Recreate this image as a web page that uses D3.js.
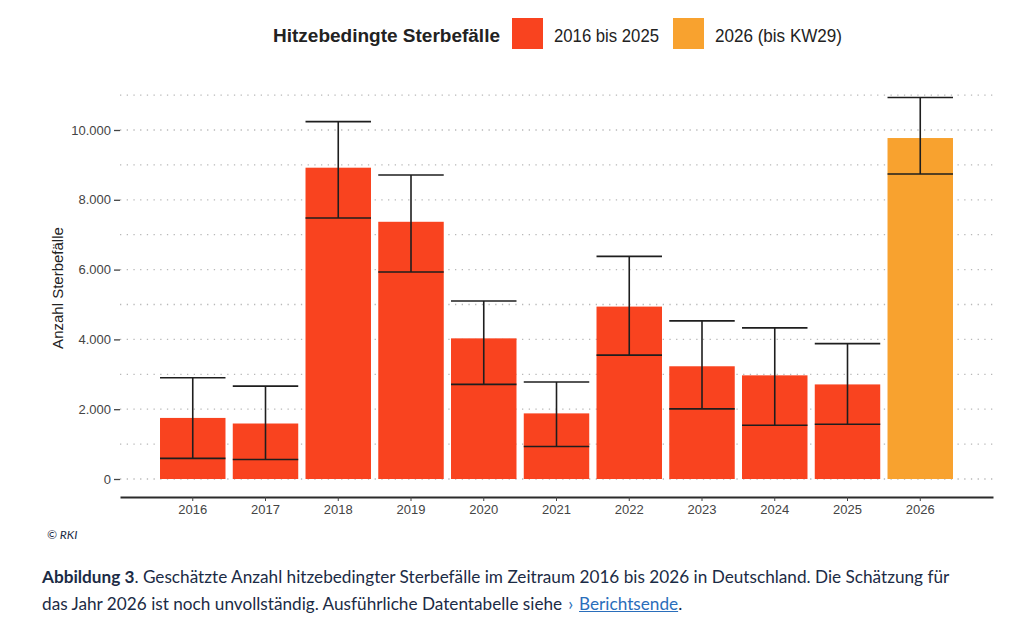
<!DOCTYPE html>
<html lang="de">
<head>
  <meta charset="UTF-8" />
  <title>Hitzebedingte Sterbefälle</title>
  <script src="https://d3js.org/d3.v7.min.js"></script>
  <style>
    body {
      margin: 0;
      background: #fff;
      overflow: hidden;
    }
    .caption {
      position: absolute;
      left: 42px;
      top: 563px;
      width: 980px;
      font-family: Lato, "Open Sans", sans-serif;
      font-size: 17.2px;
      line-height: 27px;
      color: #1b2b45;
      white-space: nowrap;
    }
    .caption a {
      color: #2a6ebb;
      text-decoration: underline;
    }
    .caption .chev {
      color: #2a6ebb;
      padding: 0 6px 0 6px;
    }
    .copy {
      position: absolute;
      left: 47px;
      top: 527px;
      font-family: Lato, sans-serif;
      font-style: italic;
      font-size: 12px;
      color: #1b2b45;
    }
  </style>
</head>
<body>
<svg width="1024" height="520" style="position:absolute;left:0;top:0"></svg>
<div class="copy">© RKI</div>
<div class="caption"><b>Abbildung 3</b>. Geschätzte Anzahl hitzebedingter Sterbefälle im Zeitraum 2016 bis 2026 in Deutschland. Die Schätzung für<br>das Jahr 2026 ist noch unvollständig. Ausführliche Datentabelle siehe<span class="chev">›</span><a href="#">Berichtsende</a>.</div>
<script>
// Werte
const years = ["2016","2017","2018","2019","2020","2021","2022","2023","2024","2025","2026"];
const deaths = [1750, 1590, 8920, 7370, 4030, 1880, 4940, 3230, 2970, 2710, 9770];
const lower  = [ 590,  560, 7480, 5930, 2710,  930, 3550, 2010, 1540, 1570, 8740];
const upper  = [2900, 2660, 10240, 8710, 5100, 2780, 6380, 4530, 4330, 3880, 10930];
const groups = ["2016 bis 2025","2016 bis 2025","2016 bis 2025","2016 bis 2025","2016 bis 2025",
                "2016 bis 2025","2016 bis 2025","2016 bis 2025","2016 bis 2025","2016 bis 2025","2026 (bis KW29)"];
const legendLabels = ["2016 bis 2025", "2026 (bis KW29)"];
const yTicks = [0, 2000, 4000, 6000, 8000, 10000];

const rows = years.map((y, i) => ({year: y, value: deaths[i], lo: lower[i], hi: upper[i], group: groups[i]}));

const svg = d3.select("svg");
const font = "'Liberation Sans', Arial, sans-serif";
const plotLeft = 120, plotRight = 993, zeroY = 479;

const color = d3.scaleOrdinal().domain(legendLabels).range(["#f9431f", "#f8a22f"]);

const x = d3.scaleBand().domain(years)
  .range([plotLeft, plotRight]).paddingInner(0.1).paddingOuter(0.55);
const y = d3.scaleLinear().domain([0, 10000]).range([zeroY, 130]);

// dotted grid, every 1000
const g = svg.append("g");
g.selectAll("line.grid")
  .data(d3.range(0, 11001, 1000))
  .join("line")
  .attr("x1", plotLeft).attr("x2", plotRight)
  .attr("y1", d => y(d)).attr("y2", d => y(d))
  .attr("stroke", "#b8b8b8")
  .attr("stroke-width", 1.3)
  .attr("stroke-dasharray", "1.3,5.4");

// bars
g.selectAll("rect.bar")
  .data(rows)
  .join("rect")
  .attr("x", d => x(d.year))
  .attr("width", x.bandwidth())
  .attr("y", d => y(d.value))
  .attr("height", d => y(0) - y(d.value))
  .attr("fill", d => color(d.group));

// error bars
const eb = g.selectAll("g.err").data(rows).join("g").attr("stroke", "#1e1e1e").attr("stroke-width", 1.6);
eb.append("line")
  .attr("x1", d => x(d.year) + x.bandwidth() / 2).attr("x2", d => x(d.year) + x.bandwidth() / 2)
  .attr("y1", d => y(d.lo)).attr("y2", d => y(d.hi));
eb.append("line")
  .attr("x1", d => x(d.year)).attr("x2", d => x(d.year) + x.bandwidth())
  .attr("y1", d => y(d.hi)).attr("y2", d => y(d.hi));
eb.append("line")
  .attr("x1", d => x(d.year)).attr("x2", d => x(d.year) + x.bandwidth())
  .attr("y1", d => y(d.lo)).attr("y2", d => y(d.lo));

// y axis (no line, only ticks + labels)
const yAxis = svg.append("g")
  .attr("transform", `translate(${plotLeft},0)`)
  .call(d3.axisLeft(y).tickValues(yTicks).tickSize(6).tickPadding(3)
    .tickFormat(d => d3.format(",")(d).replace(/,/g, ".")));
yAxis.select(".domain").remove();
yAxis.selectAll("line").attr("stroke", "#444").attr("stroke-width", 1.3);
yAxis.selectAll("text").attr("font-family", font).attr("font-size", 13).attr("fill", "#444");

// x axis
const xAxis = svg.append("g")
  .attr("transform", "translate(0,497)")
  .call(d3.axisBottom(x).tickSize(4).tickSizeOuter(0).tickPadding(4));
xAxis.select(".domain").attr("stroke", "#2b2b2b").attr("stroke-width", 2.2);
xAxis.selectAll("line").attr("stroke", "#444");
xAxis.selectAll("text").attr("font-family", font).attr("font-size", 13).attr("fill", "#444");

// y title
svg.append("text")
  .attr("transform", "translate(63,288) rotate(-90)")
  .attr("text-anchor", "middle")
  .attr("font-family", font).attr("font-size", 15).attr("fill", "#222")
  .text("Anzahl Sterbefälle");

// legend
const leg = svg.append("g").attr("font-family", font).attr("fill", "#222");
leg.append("text").attr("x", 273).attr("y", 42).attr("font-size", 18.5).attr("font-weight", "bold")
  .attr("textLength", 227).attr("lengthAdjust", "spacingAndGlyphs")
  .text("Hitzebedingte Sterbefälle");
const legX = [512, 673];
const legW = [105, 127];
legendLabels.forEach((l, i) => {
  leg.append("rect").attr("x", legX[i]).attr("y", 18).attr("width", 31).attr("height", 31).attr("fill", color(l));
  leg.append("text").attr("x", legX[i] + 42).attr("y", 42).attr("font-size", 17.5)
    .attr("textLength", legW[i]).attr("lengthAdjust", "spacingAndGlyphs").text(l);
});
</script>
</body>
</html>
